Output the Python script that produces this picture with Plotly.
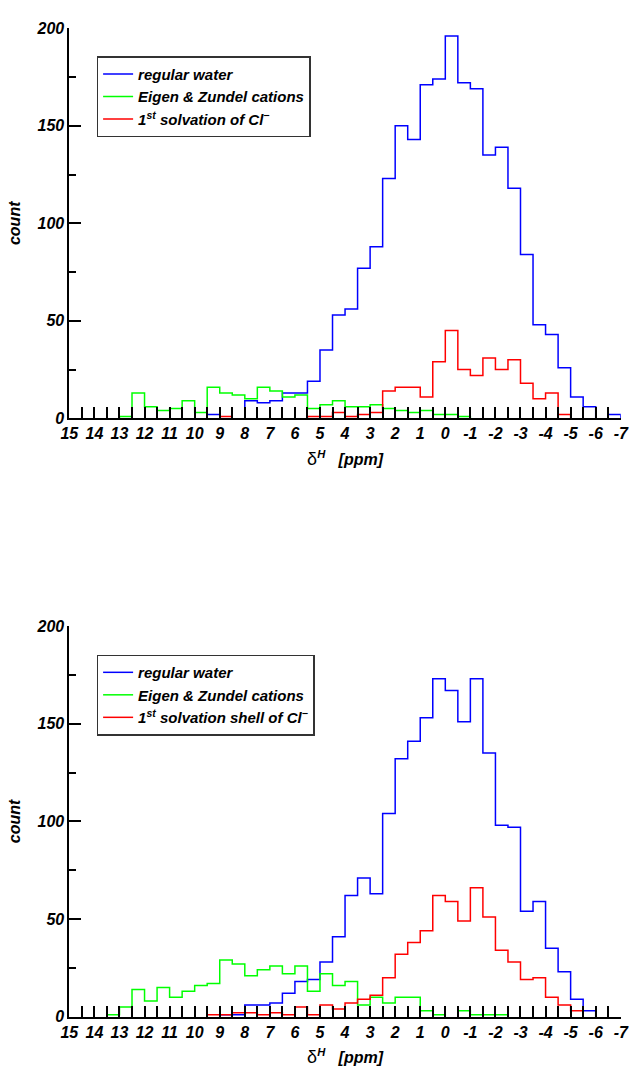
import plotly.graph_objects as go

# bin left edges: 15 down to -6.5 in steps of 0.5 (bins of width 0.5 ppm)
bin_left = [15 - 0.5 * i for i in range(44)]
bin_edges = bin_left + [-7.0]

# ---- top panel ----
top_water = [0, 0, 0, 0, 0, 0, 0, 0, 0, 0, 0,
             2, 0, 0, 9, 8, 9, 13, 13, 19, 35, 53, 56, 77, 88, 123, 150, 143,
             171, 174, 196, 172, 169, 135, 139, 118, 84, 48, 43, 26, 11, 6, 0, 2]
top_cations = [0, 0, 0, 0, 1, 13, 6, 4, 5, 9, 3,
               16, 13, 12, 10, 16, 14, 11, 12, 5, 7, 9, 6, 6, 7, 5, 4, 3,
               4, 2, 2, 1, 0, 0, 0, 0, 0, 0, 0, 0, 0, 0, 0, 0]
top_cl = [0, 0, 0, 0, 0, 0, 0, 0, 0, 0, 0,
          0, 1, 0, 0, 0, 0, 0, 0, 1, 1, 3, 1, 2, 3, 14, 16, 16,
          11, 29, 45, 25, 22, 31, 25, 30, 18, 10, 13, 2, 0, 0, 0, 0]

# ---- bottom panel ----
bot_water = [0, 0, 0, 0, 0, 0, 0, 0, 0, 0, 0,
             0, 1, 1, 6, 6, 7, 12, 18, 19, 28, 41, 62, 71, 63, 104, 132, 141,
             153, 173, 167, 151, 173, 135, 98, 97, 54, 59, 35, 23, 9, 3, 0, 0]
bot_cations = [0, 0, 0, 1, 5, 14, 8, 15, 10, 13, 16,
               17, 29, 27, 21, 24, 26, 22, 26, 13, 22, 16, 18, 6, 10, 7, 10, 10,
               3, 1, 0, 3, 1, 1, 1, 0, 0, 0, 0, 0, 0, 0, 0, 0]
bot_cl = [0, 0, 0, 0, 0, 0, 0, 0, 0, 0, 0,
          1, 1, 2, 2, 1, 2, 1, 5, 1, 6, 4, 7, 9, 11, 20, 32, 38,
          44, 62, 59, 49, 66, 51, 34, 28, 19, 20, 10, 6, 3, 0, 0, 0]

names_top = ["regular water", "Eigen & Zundel cations",
             "1<sup>st</sup> solvation of Cl<sup>\u2212</sup>"]
names_bot = ["regular water", "Eigen & Zundel cations",
             "1<sup>st</sup> solvation shell of Cl<sup>\u2212</sup>"]
colors = ["#0000ff", "#00ff00", "#ff0000"]

x_ticks = list(range(15, -8, -1))

FONT = "Liberation Sans"


def step_path(vals):
    """Histogram outline from bin edges/values; zero-count runs are left undrawn
    (they lie on the x axis in the original)."""
    xs, ys = [], []
    i, n = 0, len(vals)
    while i < n:
        if vals[i] == 0:
            i += 1
            continue
        j = i
        xs.append(bin_edges[i]); ys.append(0)
        while j < n and vals[j] != 0:
            xs += [bin_edges[j], bin_edges[j + 1]]
            ys += [vals[j], vals[j]]
            j += 1
        xs.append(bin_edges[j]); ys.append(0)
        xs.append(None); ys.append(None)
        i = j
    return xs, ys


fig = go.Figure()


def add_panel(series, names, xa, ya, leg):
    for vals, name, col in zip(series, names, colors):
        xs, ys = step_path(vals)
        fig.add_trace(go.Scatter(
            x=xs, y=ys, mode="lines", connectgaps=False,
            line=dict(color=col, width=1.5),
            name=name, xaxis=xa, yaxis=ya, legend=leg, showlegend=True))


add_panel([top_water, top_cations, top_cl], names_top, "x", "y", "legend")
add_panel([bot_water, bot_cations, bot_cl], names_bot, "x2", "y2", "legend2")

tickfont = dict(family=FONT, size=16, weight="bold", style="italic", color="black")
xtitle = ("<span style='font-style:normal;font-weight:normal;font-size:18px'>\u03b4</span>"
          "<sup>H</sup>\u00a0\u00a0\u00a0[ppm]")


def xaxis_cfg(anchor):
    return dict(
        domain=[62 / 638, 628.5 / 638], anchor=anchor,
        range=[15, -7], tickmode="array", tickvals=x_ticks,
        ticktext=[str(v) for v in x_ticks], ticklabeloverflow="allow",
        ticks="inside", ticklen=11, tickwidth=1.5, tickcolor="black",
        minor=dict(tickmode="array", tickvals=[v + 0.5 for v in range(-7, 15)],
                   ticks="inside", ticklen=11, tickwidth=1.5, tickcolor="black"),
        showline=True, linecolor="black", linewidth=1.8,
        showgrid=False, zeroline=False, tickfont=tickfont,
        title=dict(text=xtitle, font=dict(family=FONT, size=16, weight="bold",
                                          style="italic", color="black"), standoff=12),
        layer="above traces")


def yaxis_cfg(anchor, dom):
    return dict(
        domain=dom, anchor=anchor, range=[0, 200],
        tickmode="array", tickvals=[0, 50, 100, 150, 200],
        ticklabeloverflow="allow",
        ticks="inside", ticklen=12, tickwidth=1.5, tickcolor="black",
        minor=dict(tickmode="array", tickvals=[25, 75, 125, 175],
                   ticks="inside", ticklen=7, tickwidth=1.5, tickcolor="black"),
        showline=True, linecolor="black", linewidth=1.8,
        showgrid=False, zeroline=False, tickfont=tickfont,
        title=dict(text="count", font=dict(family=FONT, size=16, weight="bold",
                                           style="italic", color="black"), standoff=12),
        layer="above traces")


H = 1071
legfont = dict(family=FONT, size=15, weight="bold", style="italic", color="black")
fig.update_layout(
    width=638, height=H,
    margin=dict(l=0, r=0, t=0, b=0),
    paper_bgcolor="white", plot_bgcolor="white",
    xaxis=xaxis_cfg("y"),
    yaxis=yaxis_cfg("x", [1 - 417 / H, 1 - 20.5 / H]),
    xaxis2=xaxis_cfg("y2"),
    yaxis2=yaxis_cfg("x2", [1 - 1025 / H, 1 - 628 / H]),
    legend=dict(x=90 / 638, y=1 - 49 / H, xanchor="left", yanchor="top",
                bgcolor="white", bordercolor="#333333", borderwidth=1.5,
                font=legfont, tracegroupgap=0, itemwidth=30),
    legend2=dict(x=90 / 638, y=1 - 657 / H, xanchor="left", yanchor="top",
                 bgcolor="white", bordercolor="#333333", borderwidth=1.5,
                 font=legfont, tracegroupgap=0, itemwidth=30),
    showlegend=True,
)

fig.write_html("out.html", post_script="document.body.style.margin='0px';")
